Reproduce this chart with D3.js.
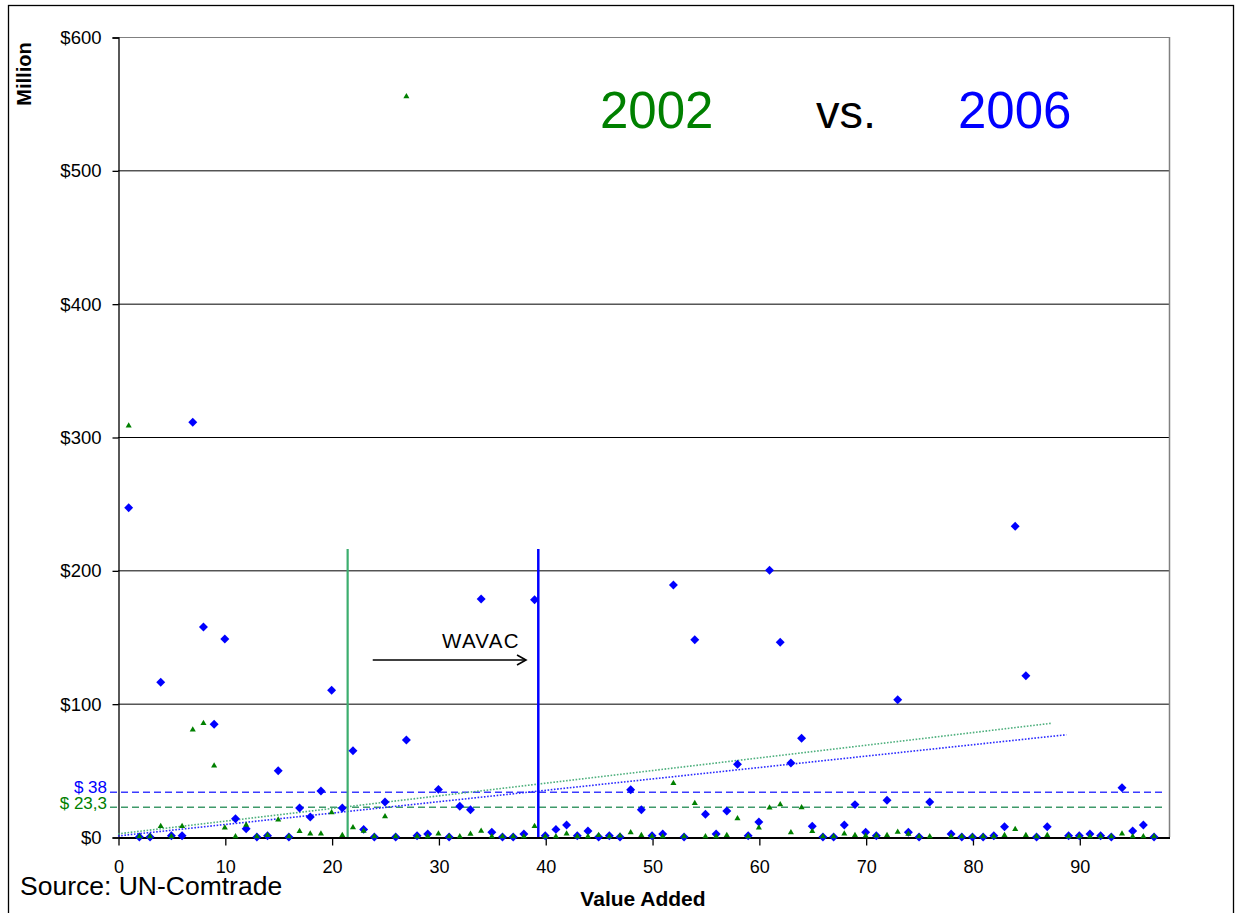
<!DOCTYPE html>
<html>
<head>
<meta charset="utf-8">
<script src="https://cdn.jsdelivr.net/npm/d3@7"></script>
<style>
  html, body { margin: 0; padding: 0; background: #fff; }
  svg { display: block; }
  text { font-family: "Liberation Sans", Arial, sans-serif; }
</style>
</head>
<body>
<svg id="chart" width="1236" height="913"></svg>
<script>
// ---- data ----
const codes = d3.range(1, 98); // 1..97
const values2006 = [247,0,0,116,1,1,311,157.5,84.5,148.5,13.7,6.2,0,1,49.7,0,21.8,15,34.5,110,
  21.8,64.7,5.7,0,26.2,0,72.7,1,2.2,35.7,0,23,20.5,178.5,3.5,0,0,2.2,178,1,
  5.7,9,1,4.5,0,1,0,35.5,20.5,1,2.2,189,0,148,17,2.2,19.5,54.5,1,11.3,
  200,146,55.5,74,8,0,0,9,24.3,3.5,1,27.5,103,3.5,0,26.2,null,2.2,0,0,
  0,1,7.7,233,121,0,7.7,null,1,1,2.2,1,0,37,4.5,9,0];
const values2002 = [308,0,0,7.7,0,7.7,80,85,53,6.5,0,8.7,0,1,12.5,0,4,2,2,18,
  1,6.7,4.2,0,15,0,555,0,0,2,0,0,1.8,4.2,0,0,0,0,7.7,0,
  0,2,0,0,1,0,0.5,3,1,0,0,40,0,25,0,0,1,13.5,0,6.5,
  21.5,24,3,21.8,4,0,0,2,1,0.5,0.5,1,3.3,1.8,0,0,null,0,0,0,
  0,0,1,5.5,1,0,1,null,0,0,0,0,0,2,0,0,0];
const yTicks = [0,100,200,300,400,500,600];
const xTicks = [0,10,20,30,40,50,60,70,80,90];
const wavac2002 = 21.5, wavac2006 = 39.35, wavacTop = 216;
const avg2002 = 22.3, avg2006 = 33.5;
const avgLabels = ["$ 23,3", "$ 38"];
const trend2002 = [[0, 2.36], [87.4, 85.3]];
const trend2006 = [[0, 0.8], [88.8, 76.7]];
const titleParts = ["2002", "vs.", "2006"];

// ---- layout ----
const svg = d3.select("#chart");
const L = 118, T = 37, W = 1051, H = 800;
const x = d3.scaleLinear().domain([0, 98.4]).range([L, L + W]);
const y = d3.scaleLinear().domain([0, 600]).range([T + H, T]);
const GREEN = "#008000", BLUE = "#0000ff";
const LGREEN = "#3cae6e";

// outer frame
svg.append("rect").attr("x", 8.5).attr("y", 5.5).attr("width", 1225).attr("height", 930)
  .attr("fill", "none").attr("stroke", "#000").attr("stroke-width", 1.3);

// gridlines
svg.append("g").selectAll("line").data(yTicks.filter(d => d > 0)).join("line")
  .attr("x1", L).attr("x2", L + W).attr("y1", d => y(d) + 0.5).attr("y2", d => y(d) + 0.5)
  .attr("stroke", d => d === 600 ? "#808080" : "#000").attr("stroke-width", 1);
// right border of plot area
svg.append("line").attr("x1", L + W + 0.5).attr("x2", L + W + 0.5).attr("y1", T).attr("y2", T + H)
  .attr("stroke", "#808080").attr("stroke-width", 1.5);

// y axis
const yAxis = svg.append("g").attr("transform", `translate(${L + 0.5},0.5)`)
  .call(d3.axisLeft(y).tickValues(yTicks).tickFormat(d => "$" + d).tickSize(6).tickPadding(11));
yAxis.selectAll("text").attr("font-size", 18.5).attr("fill", "#000").attr("font-family", "Liberation Sans, Arial, sans-serif");
yAxis.selectAll("line,path").attr("stroke", "#000").attr("stroke-width", 1.3);

// x axis
const xAxis = svg.append("g").attr("transform", `translate(0.5,${T + H + 0.5})`)
  .call(d3.axisBottom(x).tickValues(xTicks).tickFormat(d3.format("d")).tickSizeInner(8).tickSizeOuter(0).tickPadding(15));
xAxis.selectAll("text").attr("font-size", 18).attr("fill", "#000").attr("font-family", "Liberation Sans, Arial, sans-serif");
xAxis.selectAll("line,path").attr("stroke", "#000").attr("stroke-width", 1.3);
xAxis.select("path").attr("stroke-width", 2);

// average dashed lines
svg.append("line").attr("x1", 110).attr("x2", 1163).attr("y1", y(avg2006)).attr("y2", y(avg2006))
  .attr("stroke", "#3b3bff").attr("stroke-width", 1.5).attr("stroke-dasharray", "7,4");
svg.append("line").attr("x1", 110).attr("x2", 1163).attr("y1", y(avg2002)).attr("y2", y(avg2002))
  .attr("stroke", "#3f9a6a").attr("stroke-width", 1.5).attr("stroke-dasharray", "7,4");
svg.append("text").attr("x", 107).attr("y", y(avg2006) - 4).attr("text-anchor", "end")
  .attr("dominant-baseline", "middle").attr("font-size", 17).attr("fill", BLUE).text(avgLabels[1]);
svg.append("text").attr("x", 107).attr("y", y(avg2002) - 3).attr("text-anchor", "end")
  .attr("dominant-baseline", "middle").attr("font-size", 17).attr("fill", GREEN).text(avgLabels[0]);

// trend lines (dotted)
const line = d3.line().x(d => x(d[0])).y(d => y(d[1]));
svg.append("path").datum(trend2002).attr("d", line).attr("fill", "none")
  .attr("stroke", "#4fb07e").attr("stroke-width", 1.6).attr("stroke-dasharray", "1.6,1.6");
svg.append("path").datum(trend2006).attr("d", line).attr("fill", "none")
  .attr("stroke", "#2a2aff").attr("stroke-width", 1.6).attr("stroke-dasharray", "1.6,1.6");

// WAVAC vertical lines
svg.append("line").attr("x1", x(wavac2002)).attr("x2", x(wavac2002)).attr("y1", y(wavacTop)).attr("y2", y(0))
  .attr("stroke", LGREEN).attr("stroke-width", 2.2);
svg.append("line").attr("x1", x(wavac2006)).attr("x2", x(wavac2006)).attr("y1", y(wavacTop)).attr("y2", y(0))
  .attr("stroke", BLUE).attr("stroke-width", 2.5);

// WAVAC arrow + label
const arrowY = y(132.8);
const ax1 = x(23.85), ax2 = x(38.2);
svg.append("line").attr("x1", ax1).attr("x2", ax2).attr("y1", arrowY).attr("y2", arrowY)
  .attr("stroke", "#000").attr("stroke-width", 1.6);
svg.append("path").attr("d", `M${ax2 - 9},${arrowY - 5}L${ax2},${arrowY}L${ax2 - 9},${arrowY + 5}`)
  .attr("fill", "none").attr("stroke", "#000").attr("stroke-width", 1.6);
svg.append("text").attr("x", 442).attr("y", 648).attr("font-size", 20.5).attr("fill", "#000")
  .attr("letter-spacing", 1.3).text("WAVAC");

// points
const pts2006 = codes.map((c, i) => ({ c, v: values2006[i] })).filter(d => d.v !== null);
const pts2002 = codes.map((c, i) => ({ c, v: values2002[i] })).filter(d => d.v !== null);
const diamond = d3.symbol().type(d3.symbolSquare).size(40)();
const tri = d3.symbol().type(d3.symbolTriangle).size(16)();
svg.append("g").selectAll("path").data(pts2006).join("path")
  .attr("d", diamond).attr("transform", d => `translate(${x(d.c)},${y(d.v)}) rotate(45)`)
  .attr("fill", BLUE);
svg.append("g").selectAll("path").data(pts2002).join("path")
  .attr("d", tri).attr("transform", d => `translate(${x(d.c)},${y(d.v) - 0.5})`)
  .attr("fill", GREEN);

// title
svg.append("text").attr("x", 600).attr("y", 128).attr("font-size", 51).attr("fill", GREEN).text(titleParts[0]);
svg.append("text").attr("x", 816).attr("y", 128).attr("font-size", 47).attr("fill", "#000").text(titleParts[1]);
svg.append("text").attr("x", 958).attr("y", 128).attr("font-size", 51).attr("fill", BLUE).text(titleParts[2]);

// axis titles
svg.append("text").attr("transform", "translate(31,74) rotate(-90)").attr("text-anchor", "middle")
  .attr("font-size", 20).attr("font-weight", "bold").attr("fill", "#000").text("Million");
svg.append("text").attr("x", 643).attr("y", 906).attr("text-anchor", "middle")
  .attr("font-size", 21).attr("font-weight", "bold").attr("fill", "#000").text("Value Added");

// source
svg.append("text").attr("x", 20).attr("y", 895).attr("font-size", 26.5).attr("fill", "#000").text("Source: UN-Comtrade");
</script>
</body>
</html>
